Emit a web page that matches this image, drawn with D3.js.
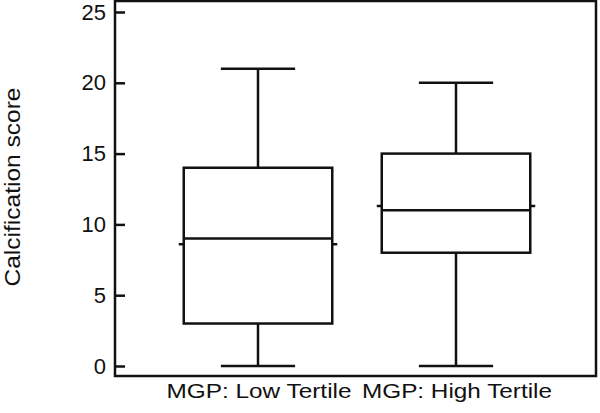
<!DOCTYPE html>
<meta charset="utf-8">
<style>
body { margin: 0; background: #fff; }
text { font-family: "Liberation Sans", Arial, sans-serif; fill: #111; }
.axis path { stroke: none; }
.axis line { stroke: #111; stroke-width: 2.5; }
</style>
<div id="viz"></div>
<script src="https://d3js.org/d3.v7.min.js"></script>
<script>
// data
var groups   = ["MGP: Low Tertile", "MGP: High Tertile"];
var mins     = [0, 0];
var q1s      = [3, 8];
var medians  = [9, 11];
var q3s      = [14, 15];
var maxs     = [21, 20];
var means    = [8.6, 11.3];
var yTicks   = [0, 5, 10, 15, 20, 25];

var W = 600, H = 413;
var frame = {left: 115, top: 1, right: 596, bottom: 376};

var svg = d3.select('#viz').append('svg')
    .attr('width', W).attr('height', H);

var y = d3.scaleLinear().domain([0, 25]).range([366, 12]);
var x = d3.scaleBand().domain(groups).range([159, 555]).padding(0);

var boxW = x.bandwidth() * 0.75;
var capW = boxW / 2;

// frame
svg.append('rect')
    .attr('x', frame.left).attr('y', frame.top)
    .attr('width', frame.right - frame.left)
    .attr('height', frame.bottom - frame.top)
    .attr('fill', 'none').attr('stroke', '#111').attr('stroke-width', 2.5);

// y axis, ticks inward
var ax = svg.append('g')
    .attr('class', 'axis')
    .attr('transform', 'translate(' + frame.left + ',0)')
    .call(d3.axisLeft(y).tickValues(yTicks).tickSizeInner(-10).tickSizeOuter(0).tickPadding(9));
ax.selectAll('text').style('font-size', '22px').style('font-family', '"Liberation Sans", Arial, sans-serif').attr('fill', '#111');

// the original text is set a bit wider than Liberation Sans
svg.append('text')
    .attr('transform', 'translate(20,187) rotate(-90)')
    .attr('text-anchor', 'middle')
    .style('font-size', '22px')
    .attr('textLength', 199).attr('lengthAdjust', 'spacingAndGlyphs')
    .text('Calcification score');

// categories
svg.selectAll('.cat').data(groups).enter().append('text')
    .attr('class', 'cat')
    .attr('x', function(d) { return x(d) + x.bandwidth() / 2 + 1; })
    .attr('y', 398)
    .attr('text-anchor', 'middle')
    .style('font-size', '21px')
    .attr('textLength', function(d, i) { return i ? 190 : 185; })
    .attr('lengthAdjust', 'spacingAndGlyphs')
    .text(function(d) { return d; });

var rows = groups.map(function(g, i) {
    return {g: g, min: mins[i], q1: q1s[i], med: medians[i], q3: q3s[i], max: maxs[i], mean: means[i]};
});

var box = svg.selectAll('.box').data(rows).enter().append('g')
    .attr('class', 'box')
    .attr('transform', function(d) { return 'translate(' + (x(d.g) + x.bandwidth() / 2) + ',0)'; })
    .attr('stroke', '#111').attr('stroke-width', 2.5).attr('fill', 'none');

// whiskers
box.append('line').attr('x1', 0).attr('x2', 0)
    .attr('y1', function(d) { return y(d.q3); }).attr('y2', function(d) { return y(d.max); });
box.append('line').attr('x1', 0).attr('x2', 0)
    .attr('y1', function(d) { return y(d.q1); }).attr('y2', function(d) { return y(d.min); });
box.append('line').attr('x1', -capW / 2).attr('x2', capW / 2)
    .attr('y1', function(d) { return y(d.max); }).attr('y2', function(d) { return y(d.max); });
box.append('line').attr('x1', -capW / 2).attr('x2', capW / 2)
    .attr('y1', function(d) { return y(d.min); }).attr('y2', function(d) { return y(d.min); });

// box
box.append('rect')
    .attr('x', -boxW / 2).attr('width', boxW)
    .attr('y', function(d) { return y(d.q3); })
    .attr('height', function(d) { return y(d.q1) - y(d.q3); });

// median
box.append('line').attr('x1', -boxW / 2).attr('x2', boxW / 2)
    .attr('y1', function(d) { return y(d.med); }).attr('y2', function(d) { return y(d.med); });

// mean marks just outside the box
box.append('line').attr('x1', -boxW / 2 - 5).attr('x2', -boxW / 2)
    .attr('y1', function(d) { return y(d.mean); }).attr('y2', function(d) { return y(d.mean); });
box.append('line').attr('x1', boxW / 2).attr('x2', boxW / 2 + 5)
    .attr('y1', function(d) { return y(d.mean); }).attr('y2', function(d) { return y(d.mean); });
</script>
